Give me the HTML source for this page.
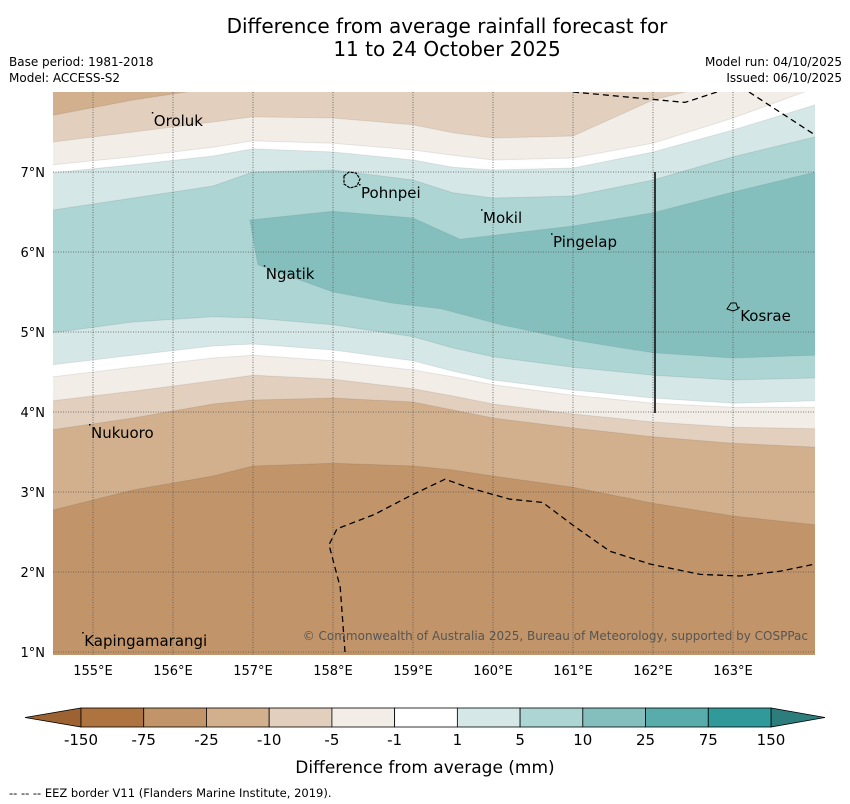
<!DOCTYPE html>
<html><head><meta charset="utf-8"><style>
body{margin:0;background:#fff;width:850px;height:804px;overflow:hidden;font-family:"DejaVu Sans","Liberation Sans",sans-serif}
svg{display:block}
</style></head><body>
<svg id="s" width="850" height="804" viewBox="0 0 850 804" xmlns="http://www.w3.org/2000/svg">
<text x="447" y="33" font-size="20" text-anchor="middle">Difference from average rainfall forecast for</text>
<text x="447" y="56" font-size="20" text-anchor="middle">11 to 24 October 2025</text>
<text x="9" y="66" font-size="12">Base period: 1981-2018</text>
<text x="9" y="82" font-size="12">Model: ACCESS-S2</text>
<text x="842" y="66" font-size="12" text-anchor="end">Model run: 04/10/2025</text>
<text x="842" y="82" font-size="12" text-anchor="end">Issued: 06/10/2025</text>
<defs><clipPath id="mc"><rect x="53" y="92" width="762" height="563"/></clipPath></defs>
<g id="map" clip-path="url(#mc)"></g>
<g id="over"></g>
<g id="cb"></g>
<text x="425" y="773" font-size="17" text-anchor="middle">Difference from average (mm)</text>
<text x="9" y="797" font-size="11.5">--  --  -- EEZ border V11 (Flanders Marine Institute, 2019).</text>
</svg>
<script>
// ---- data ----
const lonSamples=[154.5,155.5,156.5,157,158,159,159.5,160,161,162,163,164.03];
const B0=[7.71,7.9,8.05,8.09,8.09,8.06,8.05,8.02,8.02,8.09,8.15,8.21];
const B1=[7.375,7.5,7.625,7.69,7.675,7.59,7.49,7.425,7.45,7.9,8.15,8.21];
const B2=[7.09,7.19,7.31,7.39,7.36,7.275,7.21,7.15,7.175,7.36,7.675,8.05];
const B3=[6.99,7.09,7.2,7.29,7.25,7.15,7.06,7.025,7.05,7.25,7.525,7.84];
const B4=[6.525,6.675,6.825,7.0,7.025,6.9,6.74,6.675,6.7,6.9,7.19,7.44];
const B6=[4.99,5.125,5.19,5.175,5.09,4.94,4.8,4.69,4.56,4.46,4.4,4.425];
const B7=[4.59,4.71,4.825,4.85,4.775,4.64,4.51,4.4,4.275,4.175,4.11,4.14];
const B8=[4.44,4.56,4.675,4.71,4.64,4.525,4.44,4.34,4.21,4.11,4.06,4.06];
const B9=[4.14,4.26,4.39,4.46,4.41,4.29,4.2,4.1,3.975,3.875,3.81,3.79];
const B10=[3.78,3.925,4.1,4.15,4.175,4.125,4.025,3.925,3.8,3.69,3.61,3.56];
const B11=[2.775,3.025,3.2,3.325,3.36,3.325,3.275,3.2,3.06,2.86,2.7,2.59];
const bandColors=["#d2b08e","#e3cfbd","#f2ede6","#ffffff","#d5e8e7","#acd5d4","#d5e8e7","#ffffff","#f2ede6","#e3cfbd","#d2b08e","#c19569"];
const coreTopLon=[156.96,158,159,159.59,161,162,163,164.03];
const coreTopLat=[6.4,6.51,6.425,6.16,6.325,6.49,6.75,7.0];
const coreBotLon=[164.03,163,162,161,160.1,159.35,158.75,158,157.06];
const coreBotLat=[4.71,4.675,4.74,4.9,5.09,5.29,5.36,5.5,5.84];
const levels=["-150","-75","-25","-10","-5","-1","1","5","10","25","75","150"];
const cbColors=["#ad743f","#c19569","#d2b08e","#e3cfbd","#f2ede6","#ffffff","#d5e8e7","#acd5d4","#84bfbe","#58acab","#30999a"];
const lonTicks=[155,156,157,158,159,160,161,162,163];
const latTicks=[1,2,3,4,5,6,7];
const places=[["Oroluk",155.76,7.575],["Pohnpei",158.35,6.675],["Mokil",159.875,6.36],["Pingelap",160.75,6.06],["Ngatik",157.16,5.66],["Kosrae",163.09,5.14],["Nukuoro",154.975,3.675],["Kapingamarangi",154.89,1.075]];
const eezTopLon=[161,162.4,162.8],eezTopLat=[8.0,7.87,8.0];
const eezTop2Lon=[163.2,164.03],eezTop2Lat=[8.0,7.46];
const eezBotLon=[158.15,158.09,157.95,158.05,158.52,158.96,159.4,159.71,160.21,160.62,161.02,161.46,161.96,162.59,163.09,163.59,164.03];
const eezBotLat=[1.0,1.81,2.34,2.54,2.72,2.95,3.16,3.05,2.91,2.87,2.57,2.26,2.1,1.97,1.95,2.01,2.1];

// ---- axes ----
const X=lon=>93+(lon-155)*80;
const Y=lat=>172+(7-lat)*80;
const NS="http://www.w3.org/2000/svg";
function mk(tag,attrs,parent){const e=document.createElementNS(NS,tag);for(const k in attrs)e.setAttribute(k,attrs[k]);parent.appendChild(e);return e;}
const map=document.getElementById('map'),over=document.getElementById('over'),cb=document.getElementById('cb');

const bg=mk('rect',{x:53,y:92,width:762,height:563,fill:bandColors[0]},map);


const bounds=[B0,B1,B2,B3,B4,B6,B7,B8,B9,B10,B11];
bounds.forEach((b,i)=>{
  let d=lonSamples.map((l,j)=>(j?'L':'M')+X(l)+','+Y(b[j])).join(' ');
  d+=` L${X(lonSamples[lonSamples.length-1])},700 L${X(lonSamples[0])},700 Z`;
  const p=mk('path',{d:d,fill:bandColors[i+1]},map);
  
  
  const ln=mk('path',{d:lonSamples.map((l,j)=>(j?'L':'M')+X(l)+','+Y(b[j])).join(' '),fill:'none',stroke:'#000','stroke-opacity':0.08,'stroke-width':1},map);
  
  
});
let cd=coreTopLon.map((l,j)=>(j?'L':'M')+X(l)+','+Y(coreTopLat[j])).join(' ');
cd+=coreBotLon.map((l,j)=>'L'+X(l)+','+Y(coreBotLat[j])).join(' ')+'Z';
const core=mk('path',{d:cd,fill:'#84bfbe',stroke:'#000','stroke-opacity':0.06},map);



lonTicks.forEach(l=>{const g=mk('line',{x1:X(l),x2:X(l),y1:92,y2:655,stroke:'#555','stroke-width':0.8,'stroke-dasharray':'1 1.5'},over);


const t=mk('text',{x:X(l),y:675,'font-size':13,'text-anchor':'middle'},over);t.textContent=l+'°E';

});
latTicks.forEach(l=>{const g=mk('line',{x1:53,x2:815,y1:Y(l),y2:Y(l),stroke:'#555','stroke-width':0.8,'stroke-dasharray':'1 1.5'},over);


const t=mk('text',{x:45,y:Y(l)+5,'font-size':13,'text-anchor':'end'},over);t.textContent=l+'°N';

});

[[eezTopLon,eezTopLat],[eezTop2Lon,eezTop2Lat],[eezBotLon,eezBotLat]].forEach(([a,b])=>{
 const p=mk('path',{d:a.map((l,j)=>(j?'L':'M')+X(l)+','+Y(b[j])).join(' '),fill:'none',stroke:'#000','stroke-width':1.3,'stroke-dasharray':'6 4','clip-path':'url(#mc)'},over);
 
 });
const vl=mk('line',{x1:655,x2:655,y1:172,y2:413,stroke:'#222','stroke-width':1.8},over);


const pi=mk('path',{d:'M344,176 L349,172 L356,173 L360,179 L357,186 L350,188 L344,184 Z',fill:'none',stroke:'#000','stroke-width':1.2,'stroke-dasharray':'3 1'},over);


const ki=mk('path',{d:'M727,309 L731,303 L736,303 L738,309 L733,311 Z',fill:'none',stroke:'#000','stroke-width':1},over);


places.forEach(([n,lo,la])=>{const t=mk('text',{x:X(lo),y:Y(la),'font-size':15},over);t.textContent=n;


const dot=mk('rect',{x:X(lo)-2,y:Y(la)-14,width:1.5,height:1.5,fill:'#000'},over);

});
const cp=mk('text',{x:808,y:640,'font-size':12,'text-anchor':'end',fill:'#555'},over);cp.textContent='© Commonwealth of Australia 2025, Bureau of Meteorology, supported by COSPPac';



const cx0=81,cw=(771-81)/cbColors.length;
const lt=mk('polygon',{points:'25,717.5 81,708 81,727',fill:'#9c6232',stroke:'#000','stroke-width':0.8},cb);


const rt=mk('polygon',{points:'825,717.5 771,708 771,727',fill:'#2d7d7c',stroke:'#000','stroke-width':0.8},cb);


cbColors.forEach((c,i)=>{const r=mk('rect',{x:cx0+i*cw,y:708,width:cw,height:19,fill:c,stroke:'#000','stroke-width':0.8},cb);

});
levels.forEach((l,i)=>{const t=mk('text',{x:cx0+i*cw,y:745,'font-size':15,'text-anchor':'middle'},cb);t.textContent=l;

});
</script>
</body></html>
